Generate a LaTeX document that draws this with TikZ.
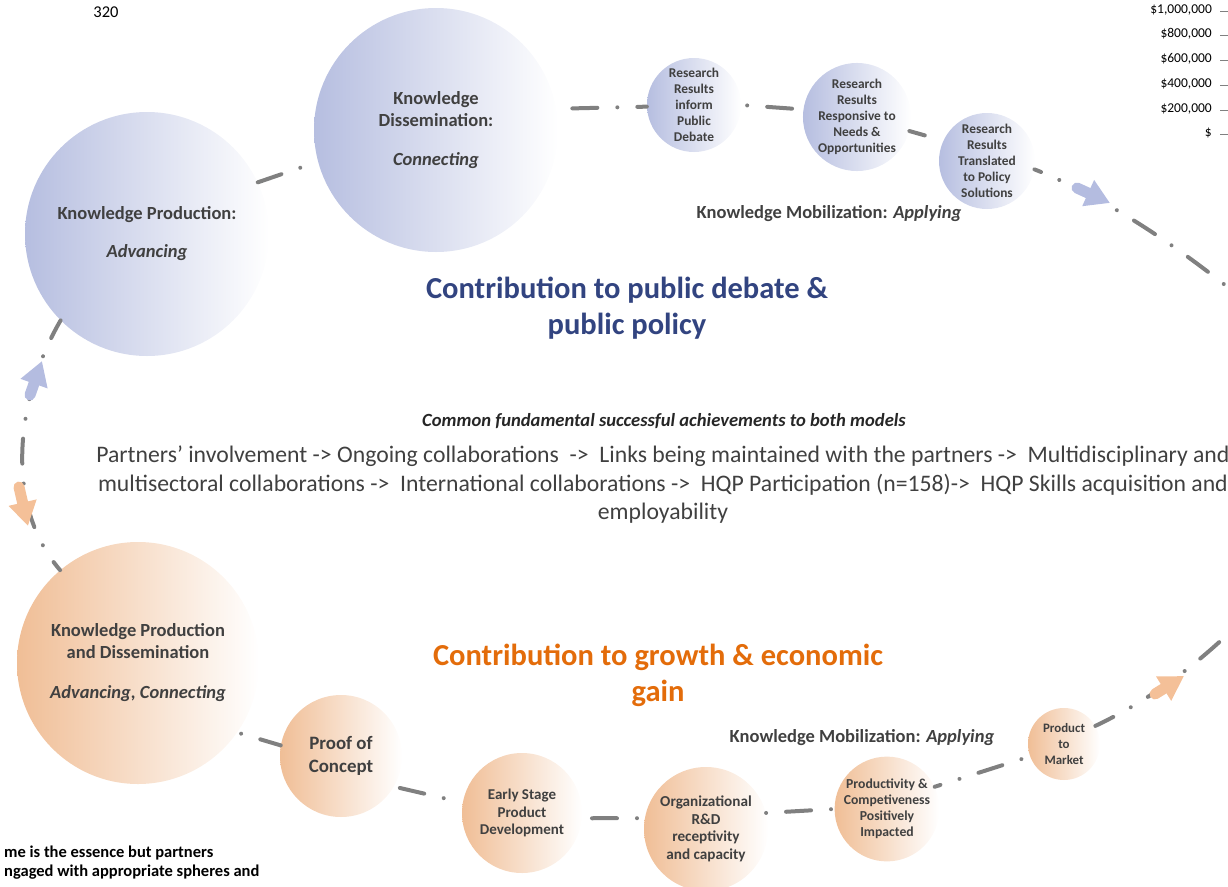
\documentclass[tikz,border=0pt]{standalone}
\usepackage{fontspec}
\setmainfont{Carlito}
\usetikzlibrary{arrows.meta}

\definecolor{lineGray}{RGB}{128,128,128}
\definecolor{blueTint}{RGB}{182,190,224}
\definecolor{orangeTint}{RGB}{240,190,150}
\definecolor{blueArrow}{RGB}{180,188,224}
\definecolor{orangeArrow}{RGB}{244,192,152}
\definecolor{txtDark}{RGB}{64,64,64}
\definecolor{titleBlue}{RGB}{50,68,128}
\definecolor{titleOrange}{RGB}{227,108,10}

\newcommand\setfs[2]{\fontsize{#1}{#2}\selectfont}

\begin{document}
\begin{tikzpicture}[x=1pt,y=-1pt,
  blob/.style={circle, inner sep=0pt, align=center, text=txtDark},
  bluedisc/.style={blob, left color=blueTint, right color=white},
  orangedisc/.style={blob, left color=orangeTint, right color=white},
  loopline/.style={draw=lineGray, line width=4pt, line cap=round,
    dash pattern=on 25pt off 20pt on 0.01pt off 20pt, dash phase=#1},
  loopline/.default=0,
  blockarrow/.style={draw=#1, line width=11pt, line cap=round,
    -{Triangle[length=24pt, width=27pt]}},
  caption/.style={inner sep=0pt, align=center, text=txtDark},
  axislabel/.style={anchor=east, inner sep=0pt, font=\setfs{13.5}{16}}
]
\useasboundingbox (0,0) rectangle (1228,886);
\clip (0,0) rectangle (1228,886);

% page number and the edge of a money axis
\node[inner sep=0pt, font=\setfs{16.5}{18}] (pagenum) at (106,12) {320};
\node[axislabel] (ax1) at (1212,10)  {\$1,000,000};
\node[axislabel] (ax2) at (1212,34)  {\$800,000};
\node[axislabel] (ax3) at (1212,59)  {\$600,000};
\node[axislabel] (ax4) at (1212,84)  {\$400,000};
\node[axislabel] (ax5) at (1212,109) {\$200,000};
\node[axislabel] (ax6) at (1212,133) {\$};
\foreach \yy in {11,35,60,85,110,134}
  \draw[gray, line width=1pt] (1220,\yy) -- (1228,\yy);

% public debate & public policy model
\node[bluedisc, minimum size=244pt, font=\setfs{18.5}{22}\bfseries] (kp) at (147,234)
  {Knowledge Production:\\[16pt]\textit{Advancing}};
\node[bluedisc, minimum size=244pt, font=\setfs{18.5}{22}\bfseries] (kd) at (436,130)
  {Knowledge\\Dissemination:\\[17pt]\textit{Connecting}};
\node[bluedisc, minimum size=94pt, font=\setfs{13.4}{16}\bfseries] (rr1) at (694,105)
  {Research\\Results\\inform\\Public\\Debate};
\node[bluedisc, minimum size=96pt, font=\setfs{13.4}{16}\bfseries] (rr2) at (857,117)
  {Research\\Results\\Responsive to\\Needs \&\\Opportunities};
\node[bluedisc, minimum size=96pt, font=\setfs{13.4}{16}\bfseries] (rr3) at (987,161)
  {Research\\Results\\Translated\\to Policy\\Solutions};
\node[caption, font=\setfs{18.5}{22}\bfseries] (kmtop) at (829,214)
  {Knowledge Mobilization: \textit{Applying}};
\node[caption, text=titleBlue, font=\setfs{30.5}{36}\bfseries] (ttop) at (627,308)
  {Contribution to public debate \&\\public policy};

% achievements shared by both models
\node[caption, text=black!85, font=\setfs{18.6}{22}\bfseries\itshape] (common) at (664,421)
  {Common fundamental successful achievements to both models};
\node[caption, font=\setfs{23.7}{28.5}] (partners) at (663,485)
  {Partners’ involvement -> Ongoing collaborations\ \ ->\ \ Links being maintained with the partners ->\ \ Multidisciplinary and\\
   multisectoral collaborations ->\ \ International collaborations ->\ \ HQP Participation (n=158)->\ \ HQP Skills acquisition and\\
   employability};

% growth & economic gain model
\node[orangedisc, minimum size=242pt, font=\setfs{18.5}{22}\bfseries] (kpd) at (138,663)
  {Knowledge Production\\and Dissemination\\[18pt]\textit{Advancing, Connecting}};
\node[orangedisc, minimum size=122pt, font=\setfs{18.9}{23}\bfseries] (poc) at (341,756)
  {Proof of\\Concept};
\node[orangedisc, minimum size=120pt, font=\setfs{15}{17.5}\bfseries] (espd) at (522,813)
  {Early Stage\\Product\\Development};
\node[orangedisc, minimum size=124pt, font=\setfs{15.2}{17.5}\bfseries] (org) at (706,829)
  {Organizational\\R\&D\\receptivity\\and capacity};
\node[orangedisc, minimum size=96pt, font=\setfs{13.7}{16}\bfseries] (prod) at (887,809)
  {Productivity \&\\Competiveness\\Positively\\Impacted};
\node[orangedisc, minimum size=72pt, font=\setfs{12.9}{16}\bfseries] (ptm) at (1064,744)
  {Product\\to\\Market};
\node[caption, font=\setfs{18.5}{22}\bfseries] (kmbot) at (862,738)
  {Knowledge Mobilization: \textit{Applying}};
\node[caption, text=titleOrange, font=\setfs{30.5}{36}\bfseries] (tbot) at (658,675)
  {Contribution to growth \& economic\\gain};

% note at the lower left
\node[anchor=west, inner sep=0pt, font=\setfs{16.5}{19}\bfseries] (note1) at (4,853)
  {me is the essence but partners};
\node[anchor=west, inner sep=0pt, font=\setfs{16.5}{19}\bfseries] (note2) at (4,872)
  {ngaged with appropriate spheres and};

% the loop joining the stages
\coordinate (outA) at (1265,318);
\coordinate (outB) at (1262,600);
\draw[loopline=0]  (kp.25)   -- (kd.195);
\draw[loopline=49] (kd.10)   -- (rr1.182);
\draw[loopline=39] (rr1.0)   -- (rr2.172);
\draw[loopline=9]  (rr2.345) -- (rr3.155);
\draw[loopline=18] (rr3.-10) .. controls (1100,195) and (1180,245) .. (outA);
\draw[loopline=5]  (kp.225)  .. controls (20,390) and (0,500) .. (kpd.130);
\draw[loopline=41] (kpd.-35) -- (poc.170);
\draw[loopline=59] (poc.-30) -- (espd.170);
\draw[loopline=55] (espd.-5) -- (org.170);
\draw[loopline=45] (org.15)  -- (prod.180);
\draw[loopline=19] (prod.25) -- (ptm.200);
\draw[loopline=5]  (ptm.30)  .. controls (1160,695) and (1210,655) .. (outB);

% direction arrows along the loop
\draw[blockarrow=blueArrow]   (1077,188) -- (1110,203);
\draw[blockarrow=blueArrow]   (30,395)   -- (42,361);
\draw[blockarrow=orangeArrow] (19,487)   -- (28,526);
\draw[blockarrow=orangeArrow] (1155,694) -- (1184,676);
\end{tikzpicture}
\end{document}
